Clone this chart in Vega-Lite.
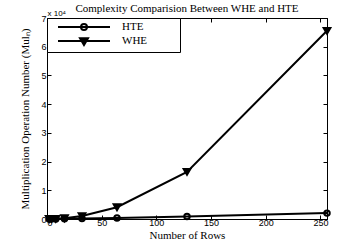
{
  "$schema": "https://vega.github.io/schema/vega-lite/v6.json",
  "width": 280,
  "height": 201,
  "autosize": {"type": "none"},
  "padding": {"left": 47, "top": 18, "right": 35, "bottom": 28},
  "background": "white",
  "title": {
    "text": "Complexity Comparision Between WHE and HTE",
    "font": "Liberation Serif",
    "fontSize": 11,
    "fontWeight": "normal",
    "color": "black",
    "anchor": "middle",
    "offset": -4
  },
  "config": {
    "view": {"stroke": "black", "strokeWidth": 1},
    "axis": {
      "domainColor": "black",
      "tickColor": "black",
      "grid": false,
      "labelColor": "black",
      "titleColor": "black",
      "labelFont": "Liberation Sans",
      "labelFontSize": 9,
      "titleFont": "Liberation Serif",
      "titleFontSize": 11,
      "titleFontWeight": "normal"
    }
  },
  "data": {
    "values": [
      {"N": 2, "series": "HTE", "ops": 2},
      {"N": 4, "series": "HTE", "ops": 8},
      {"N": 8, "series": "HTE", "ops": 24},
      {"N": 16, "series": "HTE", "ops": 64},
      {"N": 32, "series": "HTE", "ops": 160},
      {"N": 64, "series": "HTE", "ops": 384},
      {"N": 128, "series": "HTE", "ops": 896},
      {"N": 256, "series": "HTE", "ops": 2048},
      {"N": 2, "series": "WHE", "ops": 4},
      {"N": 4, "series": "WHE", "ops": 16},
      {"N": 8, "series": "WHE", "ops": 64},
      {"N": 16, "series": "WHE", "ops": 256},
      {"N": 32, "series": "WHE", "ops": 1024},
      {"N": 64, "series": "WHE", "ops": 4096},
      {"N": 128, "series": "WHE", "ops": 16384},
      {"N": 256, "series": "WHE", "ops": 65536}
    ]
  },
  "layer": [
    {
      "mark": {"type": "line", "color": "black", "strokeWidth": 2},
      "encoding": {
        "x": {
          "field": "N",
          "type": "quantitative",
          "scale": {"domain": [0, 256], "nice": false, "zero": false},
          "axis": {
            "orient": "bottom",
            "title": "Number of Rows",
            "values": [0, 50, 100, 150, 200, 250],
            "tickSize": -4,
            "labelPadding": 3,
            "titlePadding": 2
          }
        },
        "y": {
          "field": "ops",
          "type": "quantitative",
          "scale": {"domain": [0, 70000], "nice": false},
          "axis": {
            "orient": "left",
            "title": "Multiplication Operation Number (Mulₙ)",
            "values": [0, 10000, 20000, 30000, 40000, 50000, 60000, 70000],
            "labelExpr": "datum.value / 10000",
            "tickSize": -4,
            "labelPadding": 5,
            "titlePadding": 10
          }
        },
        "detail": {"field": "series"}
      }
    },
    {
      "mark": {"type": "point", "filled": true, "stroke": "black", "strokeWidth": 2, "opacity": 1},
      "encoding": {
        "x": {"field": "N", "type": "quantitative", "axis": null},
        "y": {"field": "ops", "type": "quantitative", "axis": null},
        "shape": {
          "field": "series",
          "scale": {"domain": ["HTE", "WHE"], "range": ["circle", "triangle-down"]},
          "legend": null
        },
        "fill": {
          "field": "series",
          "scale": {"domain": ["HTE", "WHE"], "range": ["transparent", "black"]},
          "legend": null
        },
        "size": {
          "field": "series",
          "scale": {"domain": ["HTE", "WHE"], "range": [30, 45]},
          "legend": null
        }
      }
    },
    {
      "mark": {"type": "point", "filled": false, "color": "black", "opacity": 0},
      "encoding": {
        "x": {"field": "N", "type": "quantitative", "axis": null},
        "y": {"field": "ops", "type": "quantitative", "axis": null},
        "shape": {
          "field": "series",
          "scale": {
            "domain": ["HTE", "WHE"],
            "range": [
              "M0.4,0H10.8M6.2,0A0.6,0.6,0,1,1,5,0A0.6,0.6,0,1,1,6.2,0",
              "M0.4,0H10.8M4.8,-0.55L6.4,-0.55L5.6,0.8ZM5.24,-0.3L5.96,-0.3L5.6,0.3Z"
            ]
          },
          "legend": {
            "title": " ",
            "titleOrient": "right",
            "titlePadding": 30,
            "orient": "top-left",
            "offset": 0,
            "strokeColor": "black",
            "fillColor": "white",
            "padding": 3,
            "symbolSize": 100,
            "symbolStrokeWidth": 2,
            "symbolStrokeColor": "black",
            "symbolFillColor": "transparent",
            "symbolOpacity": 1,
            "labelFont": "Liberation Serif",
            "labelFontSize": 11,
            "labelColor": "black",
            "labelOffset": 60,
            "rowPadding": 0
          }
        }
      }
    },
    {
      "mark": {"type": "point", "opacity": 0},
      "encoding": {
        "x": {
          "field": "N",
          "type": "quantitative",
          "axis": {
            "orient": "top",
            "values": [0, 50, 100, 150, 200, 250],
            "labels": false,
            "tickSize": -4,
            "title": "x 10⁴",
            "titleFont": "Liberation Sans",
            "titleFontSize": 8,
            "titleAnchor": "start",
            "titleAlign": "left",
            "titleAngle": 0,
            "titlePadding": 0
          }
        },
        "y": {
          "field": "ops",
          "type": "quantitative",
          "axis": {
            "orient": "right",
            "values": [0, 10000, 20000, 30000, 40000, 50000, 60000, 70000],
            "labels": false,
            "tickSize": -4,
            "title": null
          }
        }
      }
    }
  ],
  "resolve": {
    "scale": {"shape": "independent", "fill": "independent", "size": "independent"},
    "legend": {"shape": "independent"},
    "axis": {"x": "independent", "y": "independent"}
  }
}
